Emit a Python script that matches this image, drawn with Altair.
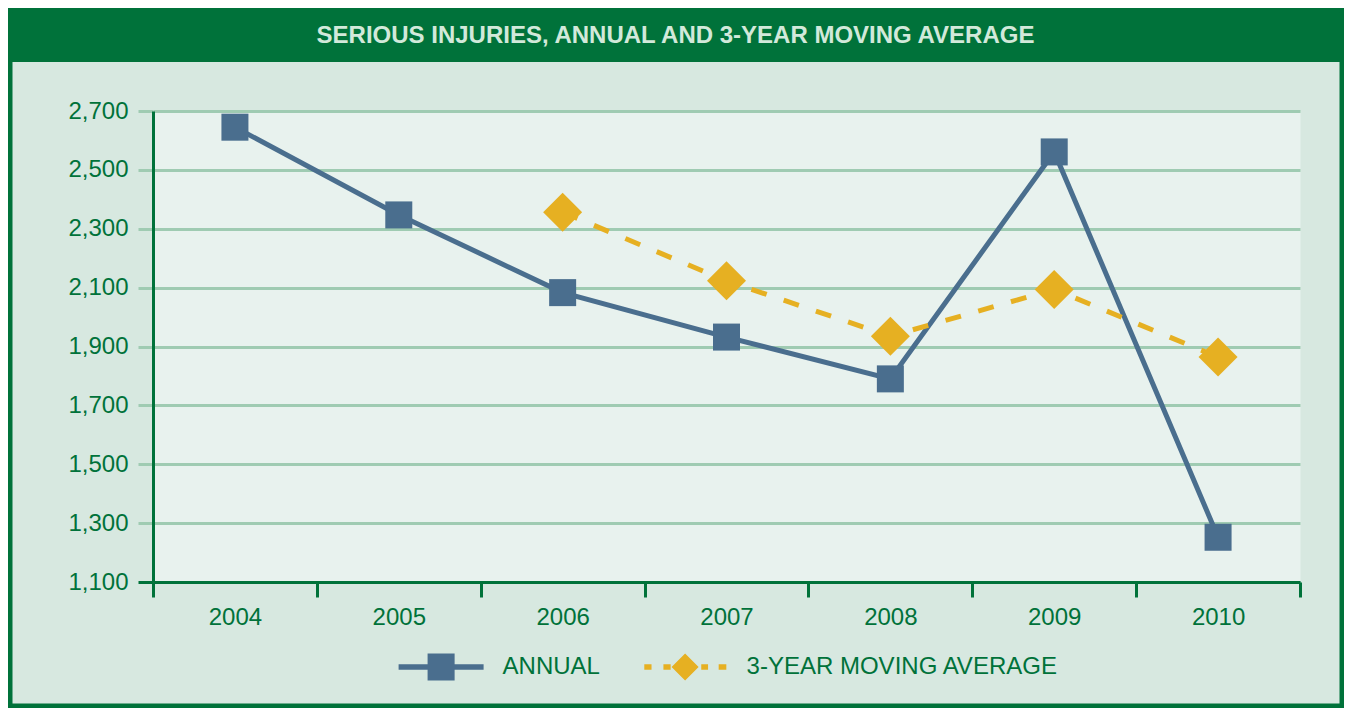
import altair as alt
import pandas as pd

# ---- data ----
YEARS = [2004, 2005, 2006, 2007, 2008, 2009, 2010]
ANNUAL = [2645, 2347, 2083, 1932, 1790, 2561, 1252]
MOVING_AVG = [None, None, 2356, 2123, 1935, 2094, 1864]
SERIES = ["ANNUAL", "3-YEAR MOVING AVERAGE"]
Y_TICKS = [1100, 1300, 1500, 1700, 1900, 2100, 2300, 2500, 2700]
TITLE = "SERIOUS INJURIES, ANNUAL AND 3-YEAR MOVING AVERAGE"

# ---- style ----
DARK = "#00723a"
OUTER_BG = "#d7e8e0"
PLOT_BG = "#e8f2ee"
GRID = "#9fcbb2"
TITLE_TXT = "#d2e9da"
BLUE = "#4a6e8e"
GOLD = "#e6b022"
FONT = "Liberation Sans"
FS = 24

W, H = 1147, 471
PAD = {"left": 145, "top": 103, "right": 44, "bottom": 126}

rows = []
for y, a, m in zip(YEARS, ANNUAL, MOVING_AVG):
    rows.append({"year": y, "series": SERIES[0], "value": a})
    if m is not None:
        rows.append({"year": y, "series": SERIES[1], "value": m})
df = pd.DataFrame(rows)

x_ticks = [y - 0.5 for y in YEARS] + [YEARS[-1] + 0.5]

x_enc = alt.X(
    "year:Q",
    scale=alt.Scale(domain=[YEARS[0] - 0.5, YEARS[-1] + 0.5], nice=False, zero=False),
    axis=alt.Axis(
        values=x_ticks,
        title=None,
        grid=False,
        labelExpr=f"datum.value < {YEARS[-1]} ? toString(datum.value + 0.5) : ''",
        labelOffset=W / len(YEARS) / 2,
        labelFlush=False,
        labelOverlap=False,
        labelBound=False,
        labelPadding=8,
        labelFont=FONT,
        labelFontSize=FS,
        labelColor=DARK,
        tickColor=DARK,
        tickSize=15,
        tickWidth=3,
        domainColor=DARK,
        domainWidth=3,
    ),
)
y_enc = alt.Y(
    "value:Q",
    scale=alt.Scale(domain=[Y_TICKS[0], Y_TICKS[-1]], nice=False, zero=False),
    axis=alt.Axis(
        values=Y_TICKS,
        format=",d",
        title=None,
        grid=True,
        gridColor=GRID,
        gridWidth=3,
        gridOpacity=1,
        labelPadding=10,
        labelFont=FONT,
        labelFontSize=FS,
        labelColor=DARK,
        tickColor={"condition": {"test": f"datum.value === {Y_TICKS[0]}", "value": DARK}, "value": GRID},
        tickSize=15,
        tickWidth=3,
        domainColor=DARK,
        domainWidth=3,
    ),
)

# legend symbols: line + marker, as SVG paths in the -1..1 unit box
ANNUAL_PATH = "M-1,-0.065H1V0.065H-1Z M-0.318,-0.318H0.318V0.318H-0.318Z"
MA_PATH = ("M-0.96,-0.065H-0.79V0.065H-0.96Z M-0.51,-0.065H-0.34V0.065H-0.51Z "
           "M0.38,-0.065H0.54V0.065H0.38Z M0.79,-0.065H0.97V0.065H0.79Z "
           "M-0.318,0L0,-0.318L0.318,0L0,0.318Z")

legend = alt.Legend(
    title=None,
    orient="none",
    legendX=245.6,
    legendY=513,
    direction="horizontal",
    symbolSize=7225,
    symbolStrokeWidth=0,
    symbolOpacity=1,
    labelOffset=19,
    columnPadding=42,
    labelLimit=500,
    labelFont=FONT,
    labelFontSize=FS,
    labelColor=DARK,
    padding=0,
)

base = alt.Chart(df).encode(x=x_enc, y=y_enc)
ann = base.transform_filter(alt.datum.series == SERIES[0])
ma = base.transform_filter(alt.datum.series == SERIES[1])

line_a = ann.mark_line(color=BLUE, strokeWidth=5)
pts_a = ann.mark_point(shape="square", size=729, filled=True, opacity=1, color=BLUE)
line_m = ma.mark_line(color=GOLD, strokeWidth=5, strokeDash=[16, 18])
pts_m = ma.mark_point(shape="diamond", size=1521, filled=True, opacity=1, color=GOLD)

# legend-only layer (its marks are clipped away; only the legend is shown)
legend_layer = alt.Chart(df).mark_point(filled=True, size=7225, opacity=1, clip=True).encode(
    x=alt.value(-3000),
    y=alt.value(-3000),
    color=alt.Color("series:N", scale=alt.Scale(domain=SERIES, range=[BLUE, GOLD]), legend=legend),
    shape=alt.Shape("series:N", scale=alt.Scale(domain=SERIES, range=[ANNUAL_PATH, MA_PATH]), legend=legend),
)

one = pd.DataFrame({"t": [TITLE]})
full_w = W + PAD["right"]
title_bar = alt.Chart(one).mark_rect(color=DARK).encode(
    x=alt.value(-PAD["left"]), x2=alt.value(full_w),
    y=alt.value(-PAD["top"]), y2=alt.value(-49),
)
title_txt = alt.Chart(one).mark_text(
    font=FONT, fontSize=24, fontWeight="bold", color=TITLE_TXT,
    align="center", baseline="alphabetic",
).encode(text="t:N", x=alt.value(522.5), y=alt.value(-68))
frame = alt.Chart(one).mark_rect(fill="transparent", stroke=DARK, strokeWidth=9).encode(
    x=alt.value(-PAD["left"]), x2=alt.value(full_w),
    y=alt.value(-PAD["top"]), y2=alt.value(H + PAD["bottom"]),
)

chart = (
    alt.layer(line_a, pts_a, line_m, pts_m, legend_layer, title_bar, title_txt, frame)
    .properties(width=W, height=H, padding=PAD, autosize=alt.AutoSizeParams(type="none"))
    .configure(background=OUTER_BG)
    .configure_view(fill=PLOT_BG, stroke="transparent")
)

chart.save("out.html", embed_options={"renderer": "svg", "actions": False})
